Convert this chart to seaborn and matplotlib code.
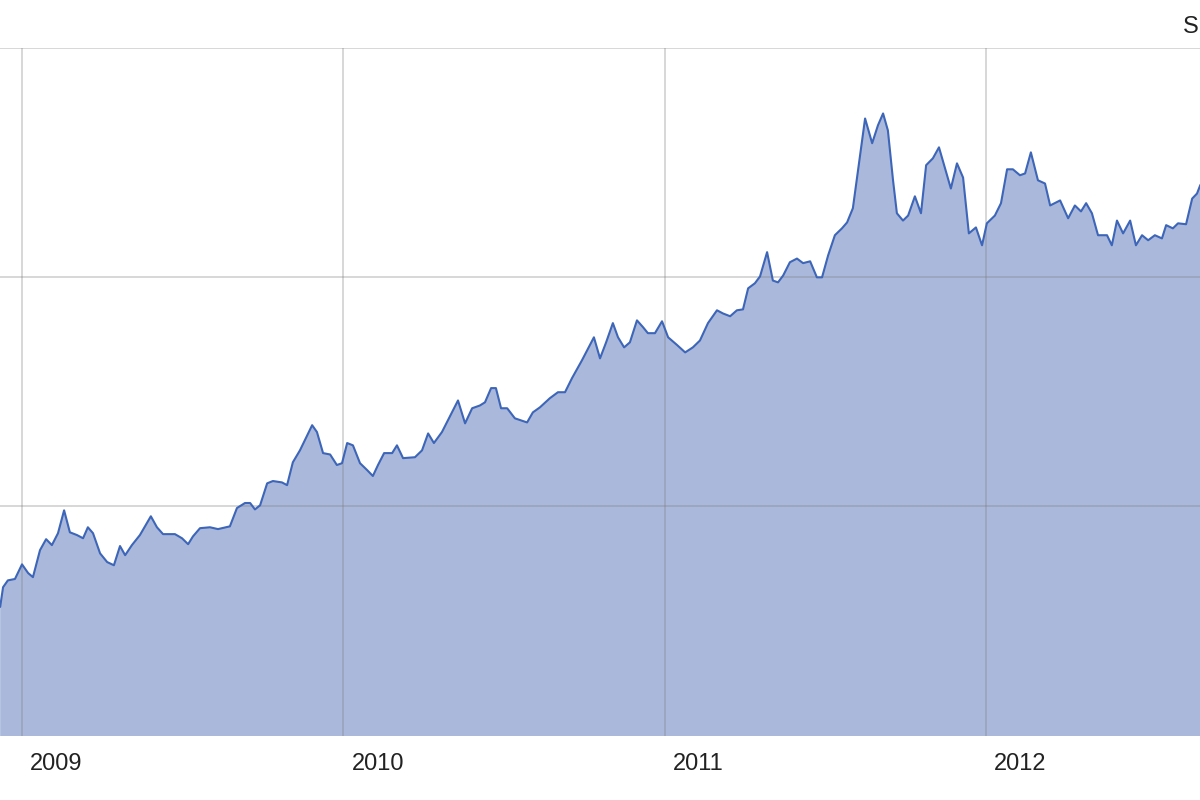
import matplotlib
matplotlib.use("Agg")
import matplotlib.pyplot as plt
import seaborn as sns
import pandas as pd

# Valores (ano decimal, preço)
anos = [
    2008.932, 2008.941, 2008.956, 2008.978, 2009.000, 2009.019, 2009.034, 2009.056,
    2009.075, 2009.093, 2009.112, 2009.131, 2009.149, 2009.171, 2009.190, 2009.205,
    2009.221, 2009.243, 2009.265, 2009.286, 2009.305, 2009.321, 2009.342, 2009.367,
    2009.401, 2009.420, 2009.439, 2009.476, 2009.498, 2009.517, 2009.532, 2009.554,
    2009.585, 2009.610, 2009.647, 2009.669, 2009.694, 2009.710, 2009.725, 2009.741,
    2009.763, 2009.781, 2009.809, 2009.825, 2009.843, 2009.865, 2009.903, 2009.918,
    2009.937, 2009.959, 2009.980, 2009.996, 2010.012, 2010.030, 2010.052, 2010.074,
    2010.092, 2010.108, 2010.127, 2010.152, 2010.167, 2010.186, 2010.223, 2010.245,
    2010.264, 2010.282, 2010.307, 2010.338, 2010.357, 2010.379, 2010.401, 2010.425,
    2010.441, 2010.460, 2010.475, 2010.491, 2010.510, 2010.534, 2010.572, 2010.590,
    2010.612, 2010.643, 2010.668, 2010.690, 2010.712, 2010.743, 2010.780, 2010.799,
    2010.818, 2010.839, 2010.855, 2010.874, 2010.892, 2010.914, 2010.933, 2010.948,
    2010.970, 2010.992, 2011.011, 2011.039, 2011.064, 2011.088, 2011.110, 2011.135,
    2011.163, 2011.182, 2011.204, 2011.225, 2011.244, 2011.260, 2011.281, 2011.297,
    2011.319, 2011.337, 2011.353, 2011.369, 2011.390, 2011.412, 2011.431, 2011.453,
    2011.474, 2011.490, 2011.509, 2011.530, 2011.552, 2011.568, 2011.586, 2011.602,
    2011.624, 2011.646, 2011.664, 2011.680, 2011.695, 2011.711, 2011.723, 2011.742,
    2011.758, 2011.779, 2011.798, 2011.814, 2011.835, 2011.854, 2011.870, 2011.891,
    2011.910, 2011.929, 2011.947, 2011.969, 2011.988, 2012.003, 2012.028, 2012.047,
    2012.066, 2012.084, 2012.106, 2012.122, 2012.140, 2012.162, 2012.184, 2012.200,
    2012.231, 2012.256, 2012.277, 2012.296, 2012.312, 2012.330, 2012.349, 2012.377,
    2012.392, 2012.408, 2012.427, 2012.449, 2012.467, 2012.486, 2012.505, 2012.526,
    2012.548, 2012.561, 2012.582, 2012.598, 2012.623, 2012.642, 2012.657, 2012.667,
    2012.675,
]
precos = [
    780, 823, 838, 841, 873, 854, 845, 904,
    928, 915, 941, 991, 943, 937, 930, 954,
    941, 897, 878, 871, 913, 893, 915, 937,
    978, 954, 939, 939, 930, 917, 934, 952,
    954, 950, 956, 996, 1007, 1007, 993, 1002,
    1050, 1055, 1052, 1046, 1096, 1122, 1177, 1162,
    1116, 1113, 1090, 1094, 1138, 1133, 1094, 1079,
    1066, 1090, 1116, 1116, 1133, 1105, 1107, 1122,
    1159, 1138, 1162, 1205, 1231, 1181, 1214, 1220,
    1227, 1258, 1258, 1214, 1214, 1192, 1183, 1205,
    1216, 1236, 1249, 1249, 1280, 1319, 1369, 1323,
    1358, 1400, 1369, 1347, 1358, 1406, 1391, 1378,
    1378, 1404, 1369, 1352, 1336, 1347, 1362, 1400,
    1428, 1421, 1415, 1428, 1430, 1476, 1487, 1502,
    1555, 1493, 1489, 1504, 1533, 1541, 1531, 1535,
    1500, 1500, 1548, 1592, 1607, 1620, 1651, 1734,
    1847, 1793, 1832, 1858, 1821, 1712, 1640, 1624,
    1635, 1677, 1640, 1745, 1760, 1784, 1745, 1694,
    1749, 1718, 1596, 1609, 1570, 1618, 1635, 1662,
    1736, 1736, 1723, 1727, 1773, 1712, 1705, 1657,
    1668, 1629, 1657, 1644, 1662, 1640, 1592, 1592,
    1570, 1624, 1596, 1624, 1570, 1592, 1581, 1592,
    1585, 1614, 1607, 1618, 1616, 1672, 1683, 1701,
    1710,
]
anos_rotulos = [2009, 2010, 2011, 2012]
canto_texto = "S"

df = pd.DataFrame({"Ano": anos, "Preco": precos})

sns.set_style("white")
plt.rcParams["font.family"] = ["Liberation Sans", "DejaVu Sans"]

fig = plt.figure(figsize=(12, 8), dpi=100)
ax = fig.add_axes([0, 0.08, 1, 0.86])

# Área preenchida + linha
ax.fill_between(df["Ano"], df["Preco"], 0, color="#aab9db", linewidth=0, zorder=1)
sns.lineplot(data=df, x="Ano", y="Preco", ax=ax, color="#3d65b8", linewidth=1.5, zorder=3)

ax.set_xlim(2008.9315, 2012.6664)
ax.set_ylim(498, 2001)

# Grade
ax.set_xticks(anos_rotulos)
ax.set_yticks([1000, 1500, 2000])
ax.set_axisbelow("line")
ax.grid(True, color="#7a7a7a", alpha=0.35, linewidth=1.2)
for s in ax.spines.values():
    s.set_visible(False)

ax.tick_params(axis="x", length=38, width=1.2, color="#c8c8c8", direction="out",
               labelbottom=False)
ax.tick_params(axis="y", left=False, labelleft=False)
ax.set_xlabel("")
ax.set_ylabel("")

# Rótulos dos anos à direita das linhas de grade
for ano in anos_rotulos:
    ax.annotate(str(ano), xy=(ano, 0), xycoords=("data", "axes fraction"),
                xytext=(6, -20), textcoords="offset points",
                ha="left", va="center", fontsize=17, color="#222222",
                annotation_clip=False)

# texto do canto (cortado no original); alinhado pela direita para caber
fig.text(0.999, 1 - 27 / 800, canto_texto, ha="right", va="center",
         fontsize=17, color="#222222")

plt.savefig("out.png", dpi=100)
